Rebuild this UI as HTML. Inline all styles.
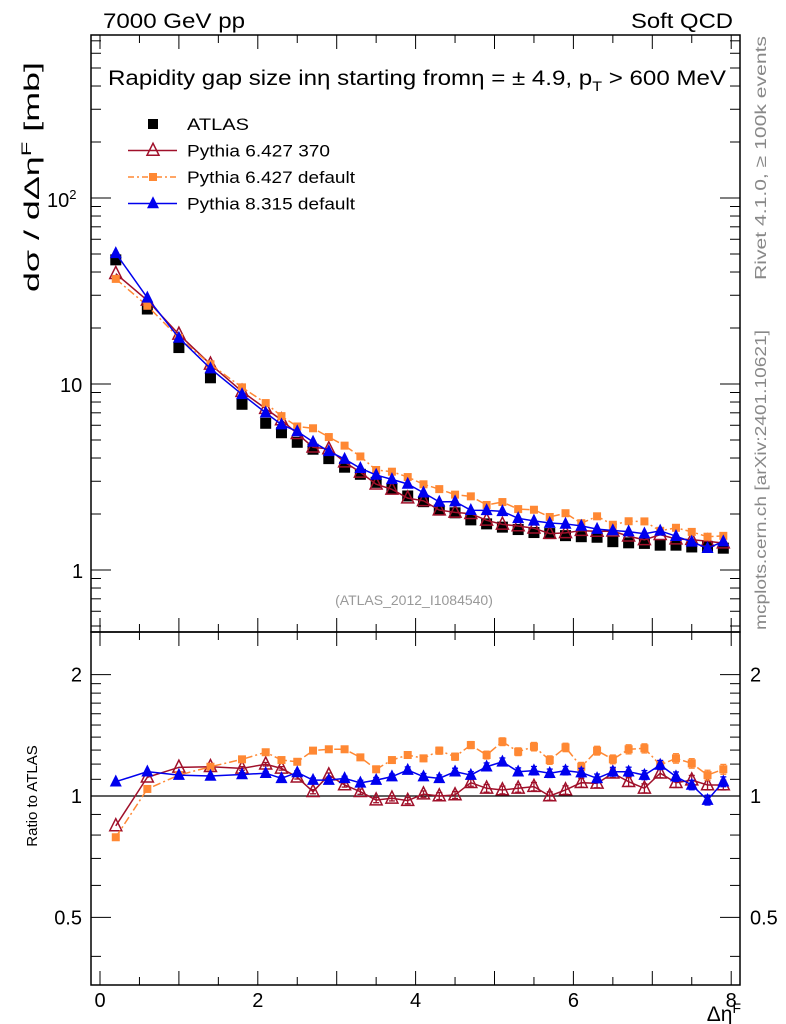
<!DOCTYPE html>
<html><head><meta charset="utf-8"><style>
body{margin:0;background:#fff;}
svg{display:block;font-family:"Liberation Sans",sans-serif;}
</style></head><body>
<svg id="c" width="786" height="1024" viewBox="0 0 786 1024"></svg>
<script>
const xVals=[0.2,0.6,1.0,1.4,1.8,2.1,2.3,2.5,2.7,2.9,3.1,3.3,3.5,3.7,3.9,4.1,4.3,4.5,4.7,4.9,5.1,5.3,5.5,5.7,5.9,6.1,6.3,6.5,6.7,6.9,7.1,7.3,7.5,7.7,7.9];
const atlas=[46.5,25.3,15.7,10.8,7.78,6.15,5.47,4.86,4.46,3.97,3.57,3.27,2.96,2.75,2.5,2.33,2.10,2.03,1.86,1.77,1.70,1.65,1.59,1.57,1.53,1.51,1.50,1.42,1.40,1.39,1.36,1.36,1.33,1.34,1.31];
const ratioP6_370=[0.843,1.113,1.178,1.182,1.171,1.199,1.171,1.113,1.025,1.127,1.065,1.025,0.977,0.987,0.974,1.011,1.0,1.006,1.079,1.045,1.035,1.045,1.055,1.0,1.035,1.079,1.075,1.139,1.085,1.045,1.139,1.079,1.095,1.065,1.065];
const ratioP6_def=[0.790,1.041,1.127,1.182,1.233,1.284,1.228,1.216,1.296,1.306,1.306,1.247,1.165,1.228,1.264,1.240,1.296,1.252,1.338,1.264,1.364,1.288,1.326,1.228,1.320,1.182,1.296,1.233,1.306,1.313,1.194,1.240,1.205,1.127,1.165];
const ratioP8_def=[1.085,1.149,1.127,1.121,1.131,1.139,1.106,1.144,1.095,1.095,1.106,1.078,1.095,1.117,1.160,1.117,1.106,1.149,1.127,1.182,1.216,1.149,1.156,1.139,1.156,1.143,1.106,1.149,1.149,1.127,1.194,1.117,1.065,0.977,1.085];
const relErr=[0.005,0.005,0.005,0.005,0.01,0.01,0.01,0.01,0.012,0.012,0.012,0.015,0.015,0.015,0.018,0.018,0.02,0.02,0.02,0.022,0.022,0.022,0.024,0.024,0.024,0.025,0.025,0.025,0.026,0.026,0.026,0.027,0.027,0.028,0.028];
const xTickLabels=["0","2","4","6","8"];

const NS="http://www.w3.org/2000/svg";
const svg=document.getElementById('c');
const L=91,R=740,T=35,M=632,B=985;
function X(v){return 100+v*78.9;}
function YT(v){return 570-Math.log10(v)*186;}
function YB(v){return 796-Math.log10(v)*403;}
function mk(tag,at,parent){const e=document.createElementNS(NS,tag);for(const k in at)e.setAttribute(k,at[k]);(parent||svg).appendChild(e);return e;}
function txt(s,at,parent){const e=mk('text',at,parent);e.innerHTML=s;return e;}

const clipTop=mk('clipPath',{id:'ct'});mk('rect',{x:L,y:T,width:R-L,height:M-T},clipTop);
const clipBot=mk('clipPath',{id:'cb'});mk('rect',{x:L,y:M,width:R-L,height:B-M},clipBot);

let f=mk('rect',{x:L,y:T,width:R-L,height:M-T,fill:'none',stroke:'#000','stroke-width':1.5});

f=mk('rect',{x:L,y:M,width:R-L,height:B-M,fill:'none',stroke:'#000','stroke-width':1.5});


const tg=mk('g',{stroke:'#000','stroke-width':1});

for(let v=0;v<=8.01;v+=0.5){
  const x=X(v),len=(Math.abs(v-Math.round(v))<0.01)?14:8;
  [T,M].forEach(y=>mk('line',{x1:x,y1:y,x2:x,y2:y+len},tg));
  [M,B].forEach(y=>mk('line',{x1:x,y1:y,x2:x,y2:y-len},tg));
}
for(let d=-1;d<=2;d++){for(let m=1;m<=9;m++){
  const v=m*Math.pow(10,d),y=YT(v);if(y<T||y>M)continue;
  const len=m==1?20:10;
  mk('line',{x1:L,y1:y,x2:L+len,y2:y},tg);mk('line',{x1:R,y1:y,x2:R-len,y2:y},tg);
}}
[0.4,0.5,0.6,0.7,0.8,0.9,1,1.1,1.2,1.3,1.4,1.5,1.6,1.7,1.8,1.9,2].forEach(v=>{
  const y=YB(v);if(y<M||y>B)return;const len=(v==1||v==2||v==0.5)?20:10;
  mk('line',{x1:L,y1:y,x2:L+len,y2:y},tg);mk('line',{x1:R,y1:y,x2:R-len,y2:y},tg);
});

const lg=mk('g',{'font-size':20,fill:'#000'});

txt('10<tspan dy="-8" font-size="13">2</tspan>',{x:47,y:207},lg);
txt('10',{x:60,y:392},lg);
txt('1',{x:72,y:578},lg);
[[2,'2'],[1,'1'],[0.5,'0.5']].forEach(([v,s])=>{
  txt(s,{x:82,y:YB(v)+7,'text-anchor':'end'},lg);
  txt(s,{x:750,y:YB(v)+7},lg);
});
xTickLabels.forEach(s=>txt(s,{x:X(+s),y:1007,'text-anchor':'middle'},lg));

let t=txt('7000 GeV pp',{x:103,y:28,'font-size':21,textLength:142,lengthAdjust:'spacingAndGlyphs'});
t=txt('Soft QCD',{x:733,y:28,'font-size':21,'text-anchor':'end',textLength:102,lengthAdjust:'spacingAndGlyphs'});
t=txt('Rapidity gap size in&#951; starting from&#951; = &#177; 4.9, p<tspan dy="6" font-size="14">T</tspan><tspan dy="-6"> &gt; 600 MeV</tspan>',{x:108,y:85,'font-size':21,textLength:618,lengthAdjust:'spacingAndGlyphs'});

t=txt('d&#963; / d&#916;&#951;<tspan dy="-8" font-size="14">F</tspan><tspan dy="8"> [mb]</tspan>',{x:0,y:0,'font-size':21,transform:'translate(39,292) rotate(-90)',textLength:230,lengthAdjust:'spacingAndGlyphs'});

t=txt('Ratio to ATLAS',{x:0,y:0,'font-size':15,'text-anchor':'middle',transform:'translate(37,796) rotate(-90)'});

t=txt('&#916;&#951;<tspan dy="-8" font-size="14">F</tspan>',{x:741,y:1021,'font-size':21,'text-anchor':'end'});

t=txt('Rivet 4.1.0, &#8805; 100k events',{x:0,y:0,'font-size':16,fill:'#888','text-anchor':'end',transform:'translate(766,36) rotate(-90)',textLength:244,lengthAdjust:'spacingAndGlyphs'});

t=txt('mcplots.cern.ch [arXiv:2401.10621]',{x:0,y:0,'font-size':16,fill:'#888','text-anchor':'end',transform:'translate(766,330) rotate(-90)',textLength:300,lengthAdjust:'spacingAndGlyphs'});

t=txt('(ATLAS_2012_I1084540)',{x:414,y:605,'font-size':14,fill:'#999','text-anchor':'middle'});


let l1=mk('line',{x1:L,y1:YB(1),x2:R,y2:YB(1),stroke:'#000','stroke-width':1.2});


function marker(type,color,x,y,g,s){
  if(type=='sq')return mk('rect',{x:x-s,y:y-s,width:2*s,height:2*s,fill:color},g);
  if(type=='tri')return mk('polygon',{points:`${x},${y-s*1.2} ${x-s},${y+s*0.8} ${x+s},${y+s*0.8}`,fill:color},g);
  if(type=='otri')return mk('polygon',{points:`${x},${y-s*1.2} ${x-s},${y+s*0.8} ${x+s},${y+s*0.8}`,fill:'none',stroke:color,'stroke-width':1.5},g);
}
const ga=mk('g',{'clip-path':'url(#ct)'});

xVals.forEach((x,i)=>{const m=marker('sq','#000',X(x),YT(atlas[i]),ga,5.5);
  });

const series=[
 {name:'pythia-6427-370',ratio:ratioP6_370,color:'#a0102a',mk:'otri',dash:null},
 {name:'pythia-6427-default',ratio:ratioP6_def,color:'#ff8833',mk:'sq',dash:'8,3,2,3'},
 {name:'pythia-8315-default',ratio:ratioP8_def,color:'#0000ee',mk:'tri',dash:null}
];
series.forEach(s=>{
  const vals=atlas.map((a,i)=>a*s.ratio[i]);
  const g=mk('g',{'clip-path':'url(#ct)'});
  
  const pl=mk('polyline',{points:xVals.map((x,i)=>X(x)+','+YT(vals[i])).join(' '),fill:'none',stroke:s.color,'stroke-width':1.5},g);
  if(s.dash)pl.setAttribute('stroke-dasharray',s.dash);
  xVals.forEach((x,i)=>{const m=marker(s.mk,s.color,X(x),YT(vals[i]),g,s.mk=='sq'?4:6);
    });
  const gb=mk('g',{'clip-path':'url(#cb)'});
  
  const pb=mk('polyline',{points:xVals.map((x,i)=>X(x)+','+YB(s.ratio[i])).join(' '),fill:'none',stroke:s.color,'stroke-width':1.5},gb);
  if(s.dash)pb.setAttribute('stroke-dasharray',s.dash);
  xVals.forEach((x,i)=>{
    const r=s.ratio[i],e=relErr[i],cx=X(x);
    if(e>0.008){
      const y1=YB(r*(1+e)),y2=YB(r*(1-e));
      mk('line',{x1:cx,y1:y1,x2:cx,y2:y2,stroke:s.color,'stroke-width':1.3},gb);
      mk('line',{x1:cx-3,y1:y1,x2:cx+3,y2:y1,stroke:s.color,'stroke-width':1.3},gb);
      mk('line',{x1:cx-3,y1:y2,x2:cx+3,y2:y2,stroke:s.color,'stroke-width':1.3},gb);
    }
    const m=marker(s.mk,s.color,cx,YB(r),gb,s.mk=='sq'?4:6);
    
  });
});

const leg=mk('g',{'font-size':17});

const entries=[['ATLAS','#000','sq',null,false,62],['Pythia 6.427 370','#a0102a','otri',null,true,143],['Pythia 6.427 default','#ff8833','sq','6,3,2,3',true,168],['Pythia 8.315 default','#0000ee','tri',null,true,168]];
entries.forEach((en,i)=>{
  const y=124+i*26.5;
  const eg=mk('g',{},leg);
  
  if(en[4]){const ln=mk('line',{x1:128,y1:y,x2:177,y2:y,stroke:en[1],'stroke-width':1.5},eg);if(en[3])ln.setAttribute('stroke-dasharray',en[3]);}
  marker(en[2],en[1],153,y,eg,en[2]=='sq'?(i==0?5:4):6);
  txt(en[0],{x:187,y:y+6,textLength:en[5],lengthAdjust:'spacingAndGlyphs'},eg);
});
</script>
</body></html>
